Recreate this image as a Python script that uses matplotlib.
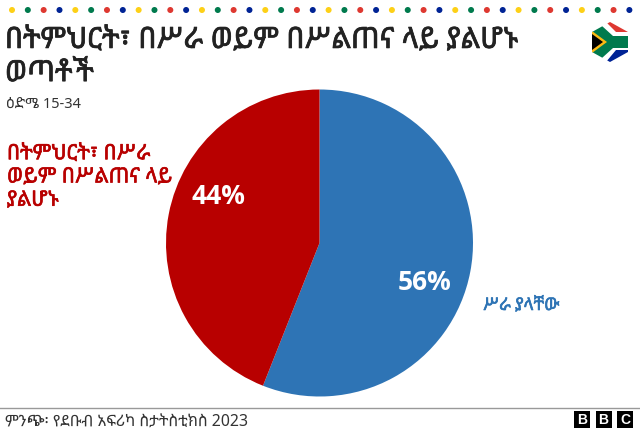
import matplotlib
matplotlib.use('Agg')
import matplotlib.pyplot as plt
import matplotlib.patheffects as pe
from matplotlib.patches import Polygon, Rectangle, Circle

plt.rcParams['font.family'] = ['Noto Sans Ethiopic', 'Noto Sans', 'DejaVu Sans']

title = 'በትምህርት፣ በሥራ ወይም በሥልጠና ላይ ያልሆኑ\nወጣቶች'
subtitle = 'ዕድሜ 15-34'
source = 'ምንጭ፡ የደቡብ አፍሪካ ስታትስቲክስ 2023'
labels = ['ሥራ ያላቸው', 'በትምህርት፣ በሥራ\nወይም በሥልጠና ላይ\nያልሆኑ']
values = [56, 44]
colors = ['#2e74b5', '#b80000']
dot_colors = ['#fdd017', '#007a4d', '#de3831', '#002395']

W, H = 640, 434
fig = plt.figure(figsize=(W / 100, H / 100), dpi=100)


def fake_bold(width, color):
    # the Ethiopic font only comes in one weight here
    return [pe.withStroke(linewidth=width, foreground=color)]


bg = fig.add_axes([0, 0, 1, 1])
bg.set_xlim(0, W)
bg.set_ylim(H, 0)
bg.axis('off')

for i in range(40):
    bg.add_patch(Circle((12 + i * 15.83, 10), 3, color=dot_colors[i % 4], lw=0))

bg.text(5, 57, title, fontsize=21, color='#222222', va='center', ha='left',
        linespacing=1.19, path_effects=fake_bold(0.55, '#222222'))
bg.text(6, 104, subtitle, fontsize=10.5, color='#333333', va='center')

# pie
cx, cy, r = 319.5, 243, 153.5
ax = fig.add_axes([(cx - r) / W, 1 - (cy + r) / H, 2 * r / W, 2 * r / H])
ax.pie(values, colors=colors, startangle=90, counterclock=False, radius=1,
       wedgeprops={'linewidth': 0})
ax.set_xlim(-1, 1)
ax.set_ylim(-1, 1)

top = fig.add_axes([0, 0, 1, 1])
top.set_xlim(0, W)
top.set_ylim(H, 0)
top.axis('off')
top.patch.set_alpha(0)

top.text(424.5, 283, f'{values[0]}%', color='white', fontsize=19, fontweight='bold',
         ha='center', va='center', family='Open Sans')
top.text(218, 197, f'{values[1]}%', color='white', fontsize=19, fontweight='bold',
         ha='center', va='center', family='Open Sans')
top.text(483, 305, labels[0], color=colors[0], fontsize=12.5, va='center',
         path_effects=fake_bold(0.45, colors[0]))
top.text(7, 177, labels[1], color=colors[1], fontsize=15.2, va='center',
         linespacing=1.14, path_effects=fake_bold(0.45, colors[1]))

# footer
top.plot([0, W], [408, 408], color='#999999', lw=1)
top.text(5, 423, source, fontsize=11.4, color='#333333', va='center')
for x0, ch in zip([574, 595.5, 617], 'BBC'):
    top.add_patch(Rectangle((x0, 411), 16, 17, color='black', lw=0))
    top.text(x0 + 8, 419.5, ch, color='white', fontsize=10, fontweight='bold', ha='center',
             va='center', family='Liberation Sans')

# flag badge, hexagon clipped
fx, fy = 610, 42
hexagon = Polygon([(fx, fy - 20), (fx + 18, fy - 10), (fx + 18, fy + 10), (fx, fy + 20),
                   (fx - 18, fy + 10), (fx - 18, fy - 10)], transform=top.transData,
                  facecolor='white', lw=0)
top.add_patch(hexagon)
flag_parts = [
    ([(fx - 4, fy - 20), (fx + 18, fy - 20), (fx + 18, fy - 10), (fx + 6, fy - 10)], '#de3831'),
    ([(fx - 4, fy + 20), (fx + 18, fy + 20), (fx + 18, fy + 8), (fx + 6, fy + 8)], '#002395'),
    ([(fx - 18, fy - 16), (fx - 8, fy - 16), (fx + 3, fy - 6), (fx + 18, fy - 6), (fx + 18, fy + 6),
      (fx + 3, fy + 6), (fx - 8, fy + 16), (fx - 18, fy + 16)], '#007a4d'),
    ([(fx - 18, fy - 11), (fx - 3, fy), (fx - 18, fy + 11)], '#fdb913'),
    ([(fx - 18, fy - 8), (fx - 7, fy), (fx - 18, fy + 8)], '#000000'),
]
for pts, c in flag_parts:
    p = Polygon(pts, facecolor=c, lw=0)
    top.add_patch(p)
    p.set_clip_path(hexagon)

fig.savefig('out.png', dpi=100)
